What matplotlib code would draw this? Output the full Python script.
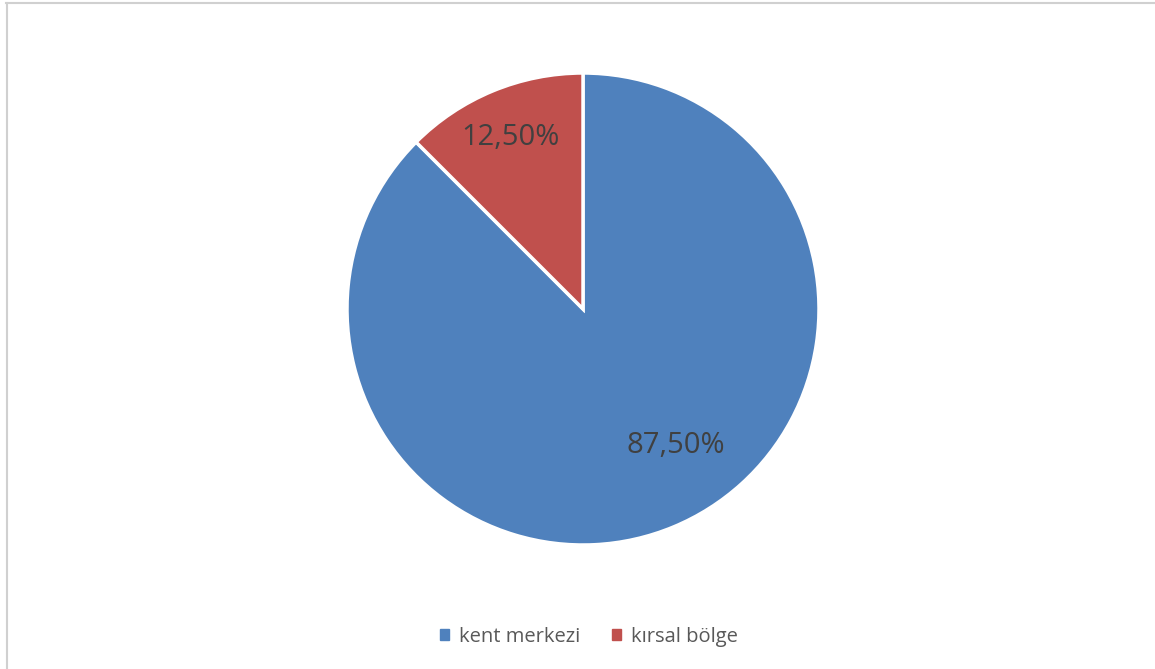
import numpy as np
from matplotlib import pyplot as plt
from matplotlib.lines import Line2D

# data
labels = ['kent merkezi', 'kırsal bölge']
values = [87.5, 12.5]
colors = ['#4F81BD', '#C0504D']

plt.rcParams['font.family'] = ['Open Sans', 'DejaVu Sans']

W, H = 1155, 669
fig = plt.figure(figsize=(W / 100, H / 100), dpi=100)
fig.patch.set_facecolor('white')

# pie axes: center (583, 309) px, radius 236 px
cx, cy, r = 583, 309, 236
ax = fig.add_axes([(cx - r) / W, (H - cy - r) / H, 2 * r / W, 2 * r / H])
wedges, texts, autotexts = ax.pie(values, colors=colors, startangle=90, counterclock=False,
                                  autopct=lambda p: f'{p:.2f}%'.replace('.', ','),
                                  pctdistance=0.75,
                                  wedgeprops=dict(edgecolor='white', linewidth=2.5),
                                  textprops=dict(fontsize=21, color='#404040'))
ax.set_xlim(-1, 1)
ax.set_ylim(-1, 1)
ax.set_aspect('equal')

# Excel-like label spots
label_spots = [(0.70, -55.8), (0.79, 113.0)]
for t, (d, ang) in zip(autotexts, label_spots):
    a = np.radians(ang)
    t.set_position((d * np.cos(a), d * np.sin(a)))

# legend
handles = [plt.Rectangle((0, 0), 1, 1, color=c) for c in colors]
fig.legend(handles, labels, loc='center', bbox_to_anchor=(589 / W, 1 - 637 / H),
           ncol=2, frameon=False, fontsize=14.5, labelcolor='#595959',
           handlelength=0.45, handleheight=0.45, handletextpad=0.5, columnspacing=1.6)

# chart border (top and left)
fig.add_artist(Line2D([6 / W, 1], [1 - 3 / H, 1 - 3 / H], color='#d0d0d0', lw=1.5))
fig.add_artist(Line2D([6.5 / W, 6.5 / W], [0, 1 - 3 / H], color='#d0d0d0', lw=1.5))

fig.savefig('out.png', dpi=100)
